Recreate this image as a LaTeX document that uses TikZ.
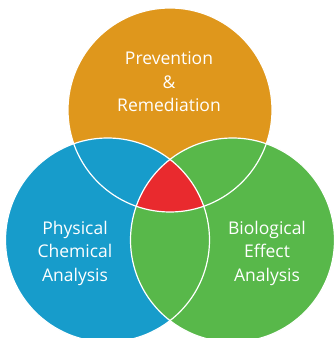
\documentclass[tikz,border=0pt]{standalone}
\usepackage{fontspec}
\setmainfont{Open Sans}
\definecolor{vorange}{HTML}{DF971C}
\definecolor{vblue}{HTML}{179CCB}
\definecolor{vgreen}{HTML}{58B84A}
\definecolor{vred}{HTML}{E92A2E}
\begin{document}
\begin{tikzpicture}[x=1pt,y=1pt,
  lbl/.style={text=white,font=\fontsize{17.5}{23.5}\selectfont,align=center},
  ring/.style={draw=white,line width=1.2pt}]
\useasboundingbox (0,0) rectangle (333,338);
\coordinate (T) at (170,228);
\coordinate (L) at (107.5,98);
\coordinate (R) at (232.5,98);
\def\rad{102}
\fill[vorange] (T) circle (\rad);
\fill[vblue] (L) circle (\rad);
\fill[vgreen] (R) circle (\rad);
\begin{scope}
  \clip (T) circle (\rad);
  \clip (L) circle (\rad);
  \fill[vred] (R) circle (\rad);
\end{scope}
\draw[ring] (T) circle (\rad);
\draw[ring] (L) circle (\rad);
\draw[ring] (R) circle (\rad);
\node[lbl] (top) at (169,256) {Prevention\\\&\\Remediation};
\node[lbl] (left) at (75,85) {Physical\\Chemical\\Analysis};
\node[lbl] (right) at (267,85) {Biological\\Effect\\Analysis};
\end{tikzpicture}
\end{document}
